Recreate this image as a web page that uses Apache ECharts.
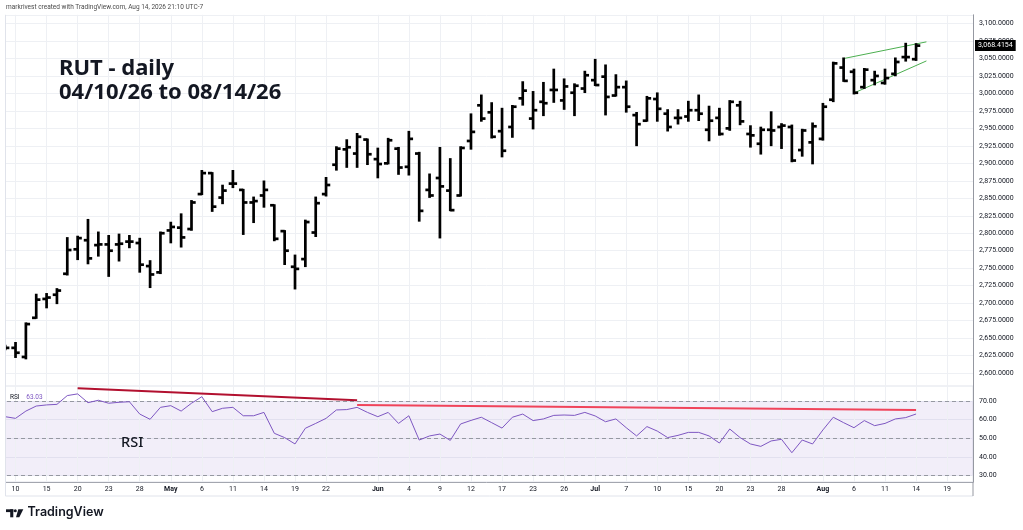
<!DOCTYPE html>
<html>
<head>
<meta charset="utf-8">
<title>RUT daily</title>
<script src="https://cdn.jsdelivr.net/npm/echarts@6/dist/echarts.min.js"></script>
<style>
  html, body { margin: 0; padding: 0; background: #fff; }
  #chart { width: 1023px; height: 530px; }
</style>
</head>
<body>
<div id="chart"></div>
<script>
// trading days (Apr 9 is the partly hidden bar at the left edge, the last five are empty future slots)
const dates = [
  '04-09','04-10','04-13','04-14','04-15','04-16','04-17','04-20','04-21','04-22','04-23','04-24',
  '04-27','04-28','04-29','04-30','05-01','05-04','05-05','05-06','05-07','05-08','05-11','05-12',
  '05-13','05-14','05-15','05-18','05-19','05-20','05-21','05-22','05-26','05-27','05-28','05-29',
  '06-01','06-02','06-03','06-04','06-05','06-08','06-09','06-10','06-11','06-12','06-15','06-16',
  '06-17','06-18','06-22','06-23','06-24','06-25','06-26','06-29','06-30','07-01','07-02','07-06',
  '07-07','07-08','07-09','07-10','07-13','07-14','07-15','07-16','07-17','07-20','07-21','07-22',
  '07-23','07-24','07-27','07-28','07-29','07-30','07-31','08-03','08-04','08-05','08-06','08-07',
  '08-10','08-11','08-12','08-13','08-14','08-17','08-18','08-19','08-20','08-21'
]

// OHLC, one value per trading day from 04-09 to 08-14
const open = [
  2637, 2636, 2623, 2679, 2706, 2712, 2742, 2777, 2790, 2783, 2784, 2784,
  2788, 2786, 2753, 2744, 2804, 2808, 2806, 2856, 2886, 2851, 2871, 2862,
  2844, 2854, 2840, 2803, 2752, 2763, 2801, 2856, 2898, 2920, 2914, 2934,
  2906, 2900, 2921, 2895, 2914, 2862, 2879, 2861, 2854, 2932, 2983, 2973,
  2946, 2952, 2993, 2964, 2988, 3005, 2990, 3001, 3007, 3019, 3024, 2997,
  3009, 2969, 2961, 2992, 2971, 2965, 2967, 2976, 2948, 2965, 2950, 2983,
  2942, 2928, 2948, 2952, 2952, 2919, 2930, 2935, 2991, 3037, 3031, 3009,
  3019, 3015, 3028, 3052, 3049
]
const high = [
  2639, 2643, 2671, 2712, 2713, 2720, 2793, 2795, 2819, 2801, 2796, 2798,
  2796, 2792, 2760, 2801, 2815, 2827, 2846, 2889, 2886, 2868, 2889, 2862,
  2851, 2874, 2840, 2803, 2768, 2818, 2851, 2879, 2923, 2933, 2942, 2934,
  2921, 2935, 2922, 2945, 2915, 2884, 2922, 2906, 2923, 2970, 2997, 2986,
  2978, 2982, 3016, 3002, 3015, 3034, 3020, 3013, 3031, 3048, 3040, 3026,
  3017, 2972, 2995, 3000, 2976, 2976, 2988, 2997, 2981, 2978, 2989, 2988,
  2953, 2951, 2973, 2956, 2954, 2948, 2957, 2985, 3044, 3050, 3034, 3035,
  3031, 3034, 3050, 3071, 3070.5
]
const low = [
  2634, 2623, 2621, 2679, 2694, 2700, 2741, 2763, 2757, 2768, 2739, 2761,
  2780, 2745, 2723, 2743, 2787, 2781, 2805, 2856, 2832, 2843, 2866, 2799,
  2816, 2838, 2790, 2756, 2721, 2753, 2796, 2854, 2891, 2895, 2895, 2899,
  2880, 2900, 2885, 2884, 2818, 2852, 2794, 2833, 2854, 2921, 2961, 2937,
  2910, 2938, 2984, 2950, 2969, 2988, 2978, 2969, 3002, 3012, 2970, 2997,
  2974, 2926, 2961, 2961, 2947, 2957, 2961, 2962, 2933, 2941, 2948, 2956,
  2924, 2914, 2926, 2922, 2903, 2911, 2900, 2934, 2989, 3018, 3000, 3008,
  3013, 3014, 3026, 3047, 3048
]
const close = [
  2636, 2629, 2670, 2705, 2708, 2718, 2776, 2793, 2764, 2784, 2775, 2785,
  2788, 2755, 2741, 2800, 2809, 2794, 2844, 2886, 2838, 2861, 2871, 2844,
  2846, 2862, 2792, 2775, 2749, 2816, 2843, 2869, 2921, 2923, 2938, 2913,
  2899, 2933, 2894, 2935, 2832, 2854, 2867, 2833, 2922, 2945, 2964, 2938,
  2918, 2981, 3004, 2976, 2986, 3005, 3010, 3011, 3026, 3012, 2995, 3009,
  2981, 2956, 2993, 2978, 2952, 2965, 2976, 2971, 2961, 2942, 2988, 2960,
  2940, 2948, 2947, 2954, 2904, 2947, 2953, 2981, 3043, 3018, 3001, 3034,
  3025, 3022, 3045, 3052, 3068.4154
]

// RSI(14), same days as the bars
const rsi = [
  61.6, 60.7, 64.6, 67.3, 67.9, 68.2, 72.9, 73.8, 69.1, 70.4, 68.8, 69.3,
  69.6, 63.0, 60.2, 66.6, 67.5, 64.6, 68.8, 72.3, 64.3, 66.1, 66.6, 62.1,
  62.1, 63.9, 52.7, 50.4, 47.0, 55.4, 58.0, 60.7, 65.2, 65.4, 66.6, 63.9,
  61.6, 63.9, 58.0, 62.1, 49.1, 51.3, 52.3, 48.9, 57.7, 59.6, 61.3, 58.4,
  55.5, 61.3, 63.0, 59.5, 60.4, 62.3, 62.5, 62.3, 63.9, 62.0, 58.9, 60.4,
  55.7, 51.3, 56.3, 53.9, 50.4, 51.6, 53.2, 53.2, 51.3, 47.5, 55.0, 50.4,
  47.0, 45.7, 48.6, 49.5, 42.3, 49.1, 47.0, 54.5, 61.3, 58.4, 55.7, 59.5,
  56.8, 58.0, 60.4, 61.1, 63.03
]

// time axis labels
const tickDates = [
  '04-10','04-15','04-20','04-23','04-28','05-01','05-06','05-11','05-14','05-19','05-22',
  '06-01','06-04','06-09','06-12','06-17','06-23','06-26','07-01','07-07','07-10','07-15',
  '07-20','07-23','07-28','08-03','08-06','08-11','08-14','08-19'
]
const tickTexts = [
  '10','15','20','23','28','May','6','11','14','19','22',
  'Jun','4','9','12','17','23','26','Jul','7','10','15',
  '20','23','28','Aug','6','11','14','19'
]
const monthTicks = ['May', 'Jun', 'Jul', 'Aug']

// drawn trend lines
const lastPrice = 3068.4154
const wedgeUpper = [['08-05', 3049.9], ['08-17', 3073.8]]
const wedgeLower = [['08-06', 3000.6], ['08-17', 3046.5]]
const rsiLineA = [['04-20', 76.8], ['05-28', 70.4]]
const rsiLineB = [['05-28', 67.9], ['08-14', 65.2]]
const rsiLevels = [70, 50, 30]

const chart = echarts.init(document.getElementById('chart'))

const fmtPrice = (v) => v.toLocaleString('en-US', { minimumFractionDigits: 4, maximumFractionDigits: 4 })
const gridColor = '#eef0f4'
const axisText = '#131722'
const labelFont = 'Roboto'

// OHLC bar: vertical high-low, open tick left, close tick right
const renderBar = (params, api) => {
  const x = api.value(0)
  const o = api.coord([x, api.value(1)])
  const h = api.coord([x, api.value(2)])
  const l = api.coord([x, api.value(3)])
  const c = api.coord([x, api.value(4)])
  const tick = 4.2
  const style = { stroke: '#000', lineWidth: 2.7 }
  return {
    type: 'group',
    children: [
      { type: 'line', shape: { x1: h[0], y1: h[1] - 1, x2: l[0], y2: l[1] + 1 }, style },
      { type: 'line', shape: { x1: o[0] - tick, y1: o[1], x2: o[0], y2: o[1] }, style },
      { type: 'line', shape: { x1: c[0], y1: c[1], x2: c[0] + tick, y2: c[1] }, style }
    ]
  }
}

const vGrid = tickDates.map(d => ({ xAxis: d }))
const segment = (pts, color, width) => [
  { coord: pts[0], lineStyle: { color, width, type: 'solid' } },
  { coord: pts[1] }
]

const option = {
  animation: false,
  backgroundColor: '#fff',
  grid: [
    { left: -1.5, right: 50, top: 14.8, height: 375.7 },
    { left: -1.5, right: 50, top: 386, height: 96, show: true, borderColor: '#e0e3eb', borderWidth: 1 }
  ],
  xAxis: [
    { type: 'category', gridIndex: 0, data: dates, boundaryGap: true, show: false },
    {
      type: 'category',
      gridIndex: 1,
      data: dates,
      boundaryGap: true,
      axisLine: { lineStyle: { color: '#a3a6af' } },
      axisTick: { show: false },
      splitLine: { show: false },
      axisLabel: {
        margin: 4,
        fontSize: 7,
        color: axisText,
        fontFamily: labelFont,
        interval: (idx, value) => tickDates.includes(value),
        formatter: (value) => {
          const t = tickTexts[tickDates.indexOf(value)]
          return monthTicks.includes(t) ? '{m|' + t + '}' : t
        },
        rich: { m: { fontWeight: 'bold', fontSize: 7, color: axisText, fontFamily: labelFont } }
      }
    }
  ],
  yAxis: [
    {
      type: 'value',
      gridIndex: 0,
      position: 'right',
      min: 2575,
      max: 3112.5,
      interval: 25,
      axisLine: { show: true, lineStyle: { color: '#9598a1' } },
      axisTick: { show: false },
      axisLabel: {
        margin: 6, fontSize: 7, color: axisText, fontFamily: labelFont,
        showMinLabel: false, showMaxLabel: false, formatter: fmtPrice
      },
      splitLine: { show: true, showMinLine: false, lineStyle: { color: gridColor } }
    },
    {
      type: 'value',
      gridIndex: 1,
      position: 'right',
      min: 26.63,
      max: 78.03,
      splitNumber: 5,
      axisLine: { show: true, lineStyle: { color: '#9598a1' } },
      axisTick: { show: false },
      axisLabel: {
        margin: 6, fontSize: 7, color: axisText, fontFamily: labelFont,
        showMinLabel: false, showMaxLabel: false, formatter: (v) => v.toFixed(2)
      },
      splitLine: { show: true, showMinLine: false, showMaxLine: false, lineStyle: { color: gridColor } }
    }
  ],
  series: [
    {
      // vertical grid lines, price pane
      type: 'line', xAxisIndex: 0, yAxisIndex: 0, data: close, silent: true, z: 1,
      showSymbol: false, lineStyle: { opacity: 0 },
      markLine: {
        silent: true, symbol: ['none', 'none'], label: { show: false },
        lineStyle: { color: gridColor, width: 1, type: 'solid' },
        data: vGrid
      }
    },
    {
      // vertical grid lines, RSI pane
      type: 'line', xAxisIndex: 1, yAxisIndex: 1, data: rsi, silent: true, z: 1,
      showSymbol: false, lineStyle: { opacity: 0 },
      markLine: {
        silent: true, symbol: ['none', 'none'], label: { show: false },
        lineStyle: { color: gridColor, width: 1, type: 'solid' },
        data: vGrid
      }
    },
    {
      name: 'RUT',
      type: 'custom',
      xAxisIndex: 0,
      yAxisIndex: 0,
      z: 5,
      renderItem: renderBar,
      encode: { x: 0, y: [1, 2, 3, 4] },
      data: open.map((o, i) => [i, o, high[i], low[i], close[i]]),
      markLine: {
        silent: true,
        symbol: ['none', 'none'],
        label: { show: false },
        data: [
          segment(wedgeUpper, '#4caf50', 1),
          segment(wedgeLower, '#4caf50', 1)
        ]
      }
    },
    {
      // last price tag on the price scale
      type: 'line',
      xAxisIndex: 0,
      yAxisIndex: 0,
      z: 20,
      data: [],
      silent: true,
      markLine: {
        silent: true,
        symbol: ['none', 'none'],
        lineStyle: { color: 'rgba(0,0,0,0)', width: 0, opacity: 1 },
        label: {
          show: true, position: 'end', distance: 2, opacity: 1,
          formatter: fmtPrice(lastPrice),
          color: '#fff', backgroundColor: '#000',
          fontSize: 7, fontFamily: labelFont, padding: [2, 3, 2, 3]
        },
        data: [{ yAxis: lastPrice }]
      }
    },
    {
      name: 'RSI',
      type: 'line',
      xAxisIndex: 1,
      yAxisIndex: 1,
      z: 5,
      data: rsi,
      symbol: 'none',
      lineStyle: { color: '#7e57c2', width: 1 },
      markArea: {
        silent: true,
        itemStyle: { color: 'rgba(126, 87, 194, 0.1)' },
        data: [[{ yAxis: 30 }, { yAxis: 70 }]]
      },
      markLine: {
        silent: true,
        symbol: ['none', 'none'],
        label: { show: false },
        data: [
          ...rsiLevels.map(v => ({ yAxis: v, lineStyle: { color: '#9598a1', width: 1, type: [4, 3] } })),
          segment(rsiLineA, '#b2102f', 2),
          segment(rsiLineB, '#f0435a', 2)
        ]
      }
    }
  ],
  graphic: [
    {
      type: 'text', left: 6, top: 4, z: 110,
      style: { text: 'markrivest created with TradingView.com, Aug 14, 2026 21:10 UTC-7', fontSize: 6.5, fontFamily: labelFont, fill: '#4a4a4a' }
    },
    {
      type: 'text', left: 59, top: 57, z: 110,
      style: { text: 'RUT - daily\n04/10/26 to 08/14/26', fontSize: 22, lineHeight: 23.5, fontWeight: 'bold', fontFamily: 'Noto Sans', fill: '#131722' }
    },
    {
      type: 'text', left: 121, top: 435.5, z: 110,
      style: { text: 'RSI', fontSize: 14.5, fontWeight: 500, fontFamily: 'Noto Sans', fill: '#131722' }
    },
    {
      type: 'text', left: 10, top: 391, z: 110,
      style: {
        text: '{a|RSI}  {b|63.03}',
        rich: {
          a: { fontSize: 6.5, fontFamily: labelFont, fill: '#131722' },
          b: { fontSize: 6.5, fontFamily: labelFont, fill: '#7e57c2' }
        }
      }
    },
    // left edge of the chart widget
    { type: 'rect', z: 100, shape: { x: 0, y: 0, width: 5, height: 530 }, style: { fill: '#fff' } },
    { type: 'line', z: 101, shape: { x1: 5.5, y1: 14.8, x2: 5.5, y2: 496 }, style: { stroke: '#e0e3eb', lineWidth: 1 } },
    { type: 'line', z: 101, shape: { x1: 5.5, y1: 496, x2: 973, y2: 496 }, style: { stroke: '#e0e3eb', lineWidth: 1 } },
    { type: 'line', z: 101, shape: { x1: 973, y1: 482, x2: 973, y2: 496 }, style: { stroke: '#9598a1', lineWidth: 1 } },
    // TradingView logo
    { type: 'rect', z: 110, shape: { x: 6, y: 509.3, width: 7.3, height: 2.8 }, style: { fill: '#131722' } },
    { type: 'rect', z: 110, shape: { x: 10.2, y: 509.3, width: 3.1, height: 8 }, style: { fill: '#131722' } },
    { type: 'circle', z: 110, shape: { cx: 15.3, cy: 510.8, r: 1.5 }, style: { fill: '#131722' } },
    { type: 'polygon', z: 110, shape: { points: [[18.3, 509.3], [23.3, 509.3], [19.3, 517.3], [16, 517.3]] }, style: { fill: '#131722' } },
    {
      type: 'text', left: 27.5, top: 506, z: 110,
      style: { text: 'TradingView', fontSize: 12.5, fontWeight: 600, fontFamily: 'Inter', fill: '#131722' }
    }
  ]
}

chart.setOption(option)
</script>
</body>
</html>
